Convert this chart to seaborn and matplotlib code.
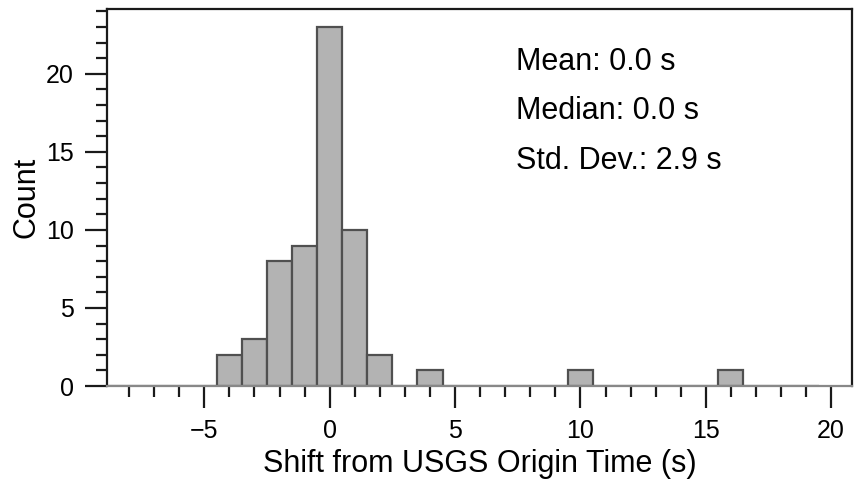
import matplotlib
matplotlib.use("Agg")
import matplotlib.pyplot as plt
import seaborn as sns
import numpy as np
import pandas as pd
from matplotlib.ticker import MultipleLocator

# Data: histogram bin centers (s) and counts
bin_centers = [-9, -8, -7, -6, -5, -4, -3, -2, -1, 0, 1, 2, 3, 4, 5, 6, 7, 8, 9,
               10, 11, 12, 13, 14, 15, 16, 17, 18, 19]
counts = [0, 0, 0, 0, 0, 2, 3, 8, 9, 23, 10, 2, 0, 1, 0, 0, 0, 0, 0,
          1, 0, 0, 0, 0, 0, 1, 0, 0, 0]
stats_lines = ["Mean: 0.0 s", "Median: 0.0 s", "Std. Dev.: 2.9 s"]
x_label = "Shift from USGS Origin Time (s)"
y_label = "Count"

df = pd.DataFrame({"shift": bin_centers, "n": counts})

sns.set_theme(style="ticks")
plt.rcParams["font.family"] = ["Liberation Sans", "DejaVu Sans"]

fig = plt.figure(figsize=(8.55, 4.84), dpi=100)
ax = fig.add_axes([107 / 855, 1 - 386 / 484, 745 / 855, 377 / 484])

sns.histplot(data=df, x="shift", weights="n", discrete=True, ax=ax,
             color="#b3b3b3", edgecolor="#505050", linewidth=1.6, alpha=1.0)

ax.set_xlim(-8.88, 20.83)
ax.set_ylim(0, 24.15)

ax.xaxis.set_major_locator(MultipleLocator(5))
ax.xaxis.set_minor_locator(MultipleLocator(1))
ax.yaxis.set_major_locator(MultipleLocator(5))
ax.yaxis.set_minor_locator(MultipleLocator(1))

for s in ["left", "top", "right", "bottom"]:
    ax.spines[s].set_linewidth(1.6)
    ax.spines[s].set_color("#1a1a1a")
ax.spines["bottom"].set_color("#888888")

ax.tick_params(which="major", direction="out", length=16, width=1.6,
               labelsize=18, pad=8, color="#1a1a1a", labelcolor="black")
ax.tick_params(which="minor", direction="out", length=8, width=1.6,
               color="#1a1a1a")

ax.set_xlabel(x_label, fontsize=22, labelpad=4, color="black")
ax.set_ylabel(y_label, fontsize=22, labelpad=3, color="black")

ys = [0.86, 0.73, 0.598]
for t, yy in zip(stats_lines, ys):
    ax.text(0.549, yy, t, transform=ax.transAxes, fontsize=22,
            ha="left", va="center", color="black")

fig.savefig("out.png", dpi=100)
